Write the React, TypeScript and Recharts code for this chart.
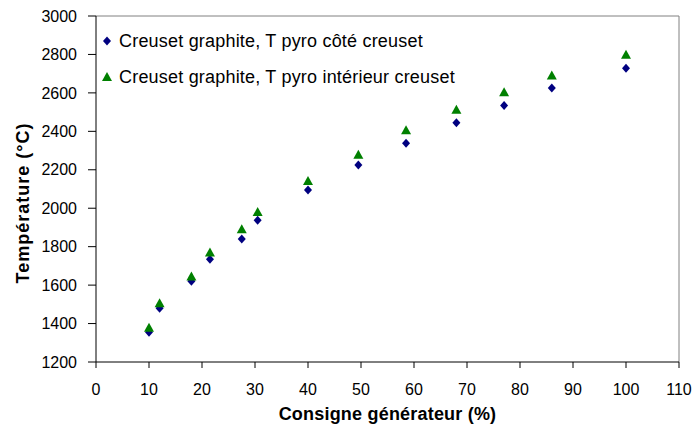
import { ScatterChart, Scatter, XAxis, YAxis, ReferenceLine, Label } from "recharts";

const consigne = [10, 12, 18, 21.5, 27.5, 30.5, 40, 49.5, 58.5, 68, 77, 86, 100];
const tCote = [1355, 1480, 1620, 1735, 1840, 1937, 2095, 2225, 2338, 2445, 2535, 2625, 2728];
const tInterieur = [1378, 1505, 1645, 1770, 1890, 1980, 2142, 2278, 2405, 2512, 2603, 2690, 2798];

const xTicks = [0, 10, 20, 30, 40, 50, 60, 70, 80, 90, 100, 110];
const yTicks = [1200, 1400, 1600, 1800, 2000, 2200, 2400, 2600, 2800, 3000];

const seriesNames = ["Creuset graphite, T pyro côté creuset", "Creuset graphite, T pyro intérieur creuset"];

const coteData = consigne.map((x, i) => ({ x, y: tCote[i] }));
const interieurData = consigne.map((x, i) => ({ x, y: tInterieur[i] }));

const FONT = "'Liberation Sans', Arial, sans-serif";
const NAVY = "#000080";
const GREEN = "#008000";

function Diamond({ cx, cy }: any) {
  return <polygon points={`${cx},${cy - 4.5} ${cx + 4},${cy} ${cx},${cy + 4.5} ${cx - 4},${cy}`} fill={NAVY} />;
}

function Triangle({ cx, cy }: any) {
  return <polygon points={`${cx},${cy - 5} ${cx + 5},${cy + 4} ${cx - 5},${cy + 4}`} fill={GREEN} />;
}

// legend drawn as an overlay so it does not shrink the plot area
function LegendBox() {
  const row = {
    display: "flex",
    alignItems: "center",
    height: 36,
    fontSize: 18,
    letterSpacing: 0.2,
    color: "#000",
    fontFamily: FONT,
    whiteSpace: "nowrap" as const,
  };
  return (
    <div style={{ position: "absolute", left: 101, top: 23 }}>
      <div style={row}>
        <svg width={18} height={12}><polygon points="6,1.5 10,6 6,10.5 2,6" fill={NAVY} /></svg>
        <span>{seriesNames[0]}</span>
      </div>
      <div style={row}>
        <svg width={18} height={12}><polygon points="6,1 11,10 1,10" fill={GREEN} /></svg>
        <span>{seriesNames[1]}</span>
      </div>
    </div>
  );
}

export default function App() {
  const tick = { fontSize: 16, fill: "#000", fontFamily: FONT };
  return (
    <div style={{ position: "absolute", left: 0, top: 0, width: 700, height: 430, background: "#fff" }}>
      <ScatterChart width={700} height={430} margin={{ top: 16, right: 21, left: 0, bottom: 8 }}>
        <XAxis
          type="number"
          dataKey="x"
          domain={[0, 110]}
          ticks={xTicks}
          interval={0}
          height={60}
          tick={tick}
          tickSize={6}
          tickMargin={16}
          stroke="#000"
        >
          <Label value="Consigne générateur (%)" position="center" dy={22} style={{ fontSize: 18, fontWeight: "bold", letterSpacing: 0.2, fill: "#000", fontFamily: FONT }} />
        </XAxis>
        <YAxis
          type="number"
          dataKey="y"
          domain={[1200, 3000]}
          ticks={yTicks}
          interval={0}
          width={96}
          tick={tick}
          tickSize={8}
          tickMargin={11}
          stroke="#000"
        >
          <Label value="Température (°C)" angle={-90} position="center" dx={-25} dy={14} style={{ fontSize: 18, fontWeight: "bold", letterSpacing: 1, fill: "#000", fontFamily: FONT, textAnchor: "middle" }} />
        </YAxis>
        <ReferenceLine y={3000} stroke="#808080" />
        <ReferenceLine x={110} stroke="#808080" />
        <Scatter name={seriesNames[0]} data={coteData} shape={<Diamond />} isAnimationActive={false} />
        <Scatter name={seriesNames[1]} data={interieurData} shape={<Triangle />} isAnimationActive={false} />
      </ScatterChart>
      <LegendBox />
    </div>
  );
}
